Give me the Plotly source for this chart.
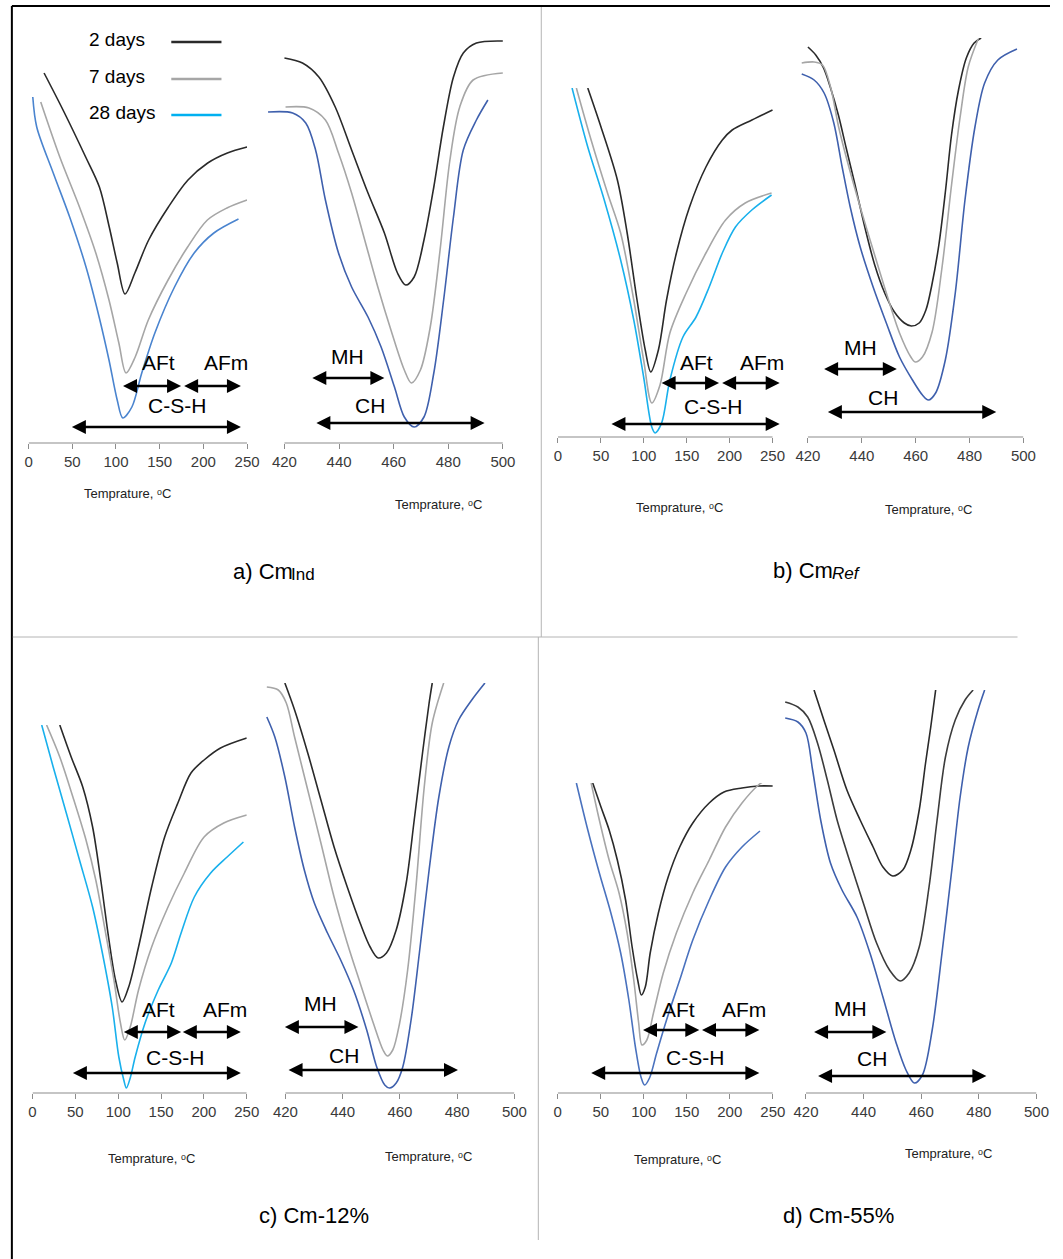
import plotly.graph_objects as go

FIG_W, FIG_H = 1063, 1259

# ---------------- DTG data (temperature in degC, relative signal in a.u.) ----------------
# Panel a) CmInd, low-temperature window
a_lo_T_2d = [17.7, 39.4, 65.3, 81, 92.3, 101.4, 110.4, 121.6, 137.4, 160, 182.4, 205, 227.5, 250]
a_lo_S_2d = [370, 333, 286, 256, 216, 180, 149, 170, 203, 236, 263, 280, 290, 296]
a_lo_T_7d = [13.9, 35.7, 58.2, 76.9, 92, 103.3, 111.5, 122, 137, 159.6, 182, 204.6, 227, 250]
a_lo_S_7d = [341, 286, 236, 190, 143, 100, 70, 86, 123, 163, 196, 223, 235, 243]
a_lo_T_28d = [4.8, 9.3, 28.2, 47, 65.7, 80.7, 92, 101.4, 107.8, 118.2, 129.5, 144.5, 167, 189.5, 212, 240.2]
a_lo_S_28d = [346, 316, 270, 226, 176, 126, 83, 43, 25, 36, 70, 110, 156, 190, 210, 224]
# Panel a) CmInd, high-temperature window
a_hi_T_2d = [420, 426.6, 432.6, 438.6, 444.6, 450.6, 456.6, 461.4, 464.4, 467.5, 471.1, 474.7, 478.2, 481.9, 485.5, 490.3, 500]
a_hi_S_2d = [385, 380, 366, 336, 293, 250, 210, 170, 158, 166, 203, 256, 316, 366, 390, 400, 402]
a_hi_T_7d = [420.4, 429, 435, 439.8, 444.6, 449.4, 454.2, 459, 463.9, 466.5, 469.8, 473.4, 477, 480.6, 484.2, 489.1, 500]
a_hi_S_7d = [336, 335, 323, 290, 250, 203, 156, 113, 73, 60, 73, 116, 193, 283, 336, 363, 370]
a_hi_T_28d = [414, 423, 427.8, 431.4, 435, 439.8, 444.6, 450.6, 455.4, 460.3, 463.9, 467.5, 471.1, 474.7, 478.3, 481.9, 485.5, 490.3, 494.5]
a_hi_S_28d = [331, 330, 320, 293, 243, 190, 156, 126, 96, 56, 26, 16, 26, 70, 143, 226, 293, 323, 343]

# Panel b) CmRef
b_lo_T_2d = [34.7, 50.1, 69.2, 80.6, 92.1, 101.7, 108.1, 117, 126.5, 138, 153.3, 172.4, 191.5, 203, 226, 250]
b_lo_S_2d = [349, 310, 257, 204, 137, 87, 65, 87, 137, 184, 230, 270, 297, 307, 317, 327]
b_lo_T_7d = [21.4, 38.6, 57.7, 73, 88.3, 99.8, 109.3, 118.9, 130.4, 149.4, 172.4, 195.3, 218.2, 248.9]
b_lo_S_7d = [349, 297, 244, 204, 137, 77, 34, 52, 104, 144, 184, 217, 234, 244]
b_lo_T_28d = [16.4, 34.7, 53.9, 73, 88.3, 99.8, 109.3, 113.2, 120.8, 130.4, 145.6, 160.9, 176.2, 191.5, 206.8, 225.9, 248.9]
b_lo_S_28d = [349, 290, 237, 177, 117, 60, 10, 4, 14, 57, 100, 120, 150, 184, 210, 227, 242]
b_hi_T_2d = [420, 422.9, 425.8, 428.4, 431.3, 434.2, 437.5, 441.2, 444.8, 448.5, 452.1, 455.8, 458.4, 461.3, 463.8, 466, 468.6, 471.1, 473.3, 475.9, 478.8, 481.7, 484.3]
b_hi_S_2d = [390, 382, 369, 349, 322, 289, 252, 209, 172, 144, 125, 114, 111, 114, 127, 152, 192, 247, 302, 347, 379, 394, 399]
b_hi_T_7d = [417.7, 422.3, 425.4, 428.4, 431.4, 434.5, 439.4, 444.2, 449.1, 454, 458.2, 459.8, 462.5, 466.1, 469.8, 473.4, 476.5, 479.5, 483.2]
b_hi_S_7d = [374, 375, 372, 350, 310, 277, 230, 187, 144, 104, 80, 75, 80, 105, 170, 254, 320, 370, 398]
b_hi_T_28d = [417.7, 422.3, 426, 429.6, 432.7, 435.7, 439.4, 444.2, 449.1, 454, 458.8, 462.5, 464.7, 467.4, 471, 474.7, 478.3, 482, 485.6, 490.5, 497.6]
b_hi_S_28d = [363, 357, 344, 314, 270, 230, 190, 150, 114, 80, 57, 42, 37, 44, 77, 144, 237, 310, 354, 377, 388]

# Panel c) Cm-12%
c_lo_T_2d = [31.8, 45.1, 58.6, 70.1, 79.6, 89.2, 96.8, 104.5, 112.2, 123.7, 139, 154.2, 169.6, 184.9, 200.2, 219.4, 250]
c_lo_S_2d = [368, 336, 306, 266, 213, 153, 113, 91, 106, 146, 206, 256, 290, 320, 333, 345, 355]
c_lo_T_7d = [16.4, 31.8, 47.1, 62.4, 73.8, 85.3, 95, 102.6, 107.6, 114, 123.7, 139, 158.1, 177.2, 200.2, 223.2, 250]
c_lo_S_7d = [368, 336, 296, 253, 213, 160, 113, 70, 53, 66, 103, 146, 186, 220, 256, 270, 278]
c_lo_T_28d = [10.7, 24.1, 39.4, 54.8, 70.1, 81.5, 93, 100.7, 106.5, 109.5, 114, 119.8, 131.3, 146.7, 162, 173.4, 188.8, 207.9, 227.1, 246.1]
c_lo_S_28d = [368, 326, 280, 233, 186, 140, 86, 36, 13, 5, 15, 36, 70, 103, 130, 160, 196, 220, 236, 251]
c_hi_T_2d = [419.8, 423.2, 427.8, 432.4, 437, 441.6, 446.1, 449.6, 452.4, 455.3, 458.7, 462.2, 465, 467.9, 470.2, 471.3]
c_hi_S_2d = [410, 383, 340, 293, 246, 206, 170, 146, 135, 140, 163, 210, 273, 340, 390, 410]
c_hi_T_7d = [413.5, 417.5, 420.3, 423.2, 427.8, 432.4, 437, 441.6, 446.1, 450.7, 454.1, 455.6, 457.5, 459.9, 462.7, 465.6, 468.5, 471.3, 475.3]
c_hi_S_7d = [406, 403, 390, 356, 303, 250, 196, 150, 110, 70, 43, 37, 43, 70, 123, 206, 306, 370, 410]
c_hi_T_28d = [413.5, 416.3, 419.8, 423.2, 426.6, 430.1, 434.7, 439.3, 443.8, 448.4, 451.9, 454.7, 456.4, 458.7, 461, 463.9, 466.8, 470.2, 473.6, 477.1, 480.5, 485.1, 489.7]
c_hi_S_28d = [376, 356, 316, 266, 223, 190, 160, 133, 103, 63, 26, 8, 5, 10, 26, 73, 140, 223, 296, 346, 373, 393, 410]

# Panel d) Cm-55%
d_lo_T_2d = [40.7, 50.3, 59.8, 69.3, 78.9, 86.5, 93, 97.2, 101.8, 107.5, 117, 128.4, 141.8, 157, 176.1, 193.3, 214.2, 233.3, 250]
d_lo_S_2d = [310, 286, 263, 233, 193, 146, 113, 98, 106, 140, 180, 216, 246, 270, 290, 301, 305, 307, 307]
d_lo_T_7d = [38.9, 48.4, 59.8, 71.3, 80.7, 88.4, 94.1, 97.9, 103.6, 111.3, 122.7, 137.9, 157, 176.1, 195.1, 214.2, 233.3, 240]
d_lo_S_7d = [310, 273, 233, 200, 160, 113, 70, 48, 53, 80, 120, 160, 200, 233, 266, 290, 308, 312]
d_lo_T_28d = [21.7, 35, 48.4, 61.8, 73.2, 82.7, 90.3, 96.8, 101, 106.7, 115, 126.5, 141.8, 157, 176.1, 195.1, 214.2, 235.1]
d_lo_S_28d = [310, 263, 220, 180, 140, 93, 46, 16, 8, 15, 40, 73, 113, 153, 193, 226, 246, 262]
d_hi_T_2d = [422.8, 426.2, 429.7, 434.2, 438.8, 443.3, 446.7, 450.1, 453.6, 456.4, 459.3, 461.5, 463.3, 465]
d_hi_S_2d = [403, 373, 343, 303, 273, 246, 226, 217, 223, 243, 283, 330, 366, 403]
d_hi_T_7d = [412.8, 417.2, 420.6, 424, 427.4, 430.8, 435.4, 439.9, 444.5, 449, 452.7, 455.8, 459.3, 462.7, 465.5, 468.4, 471.8, 475.2, 478]
d_hi_S_7d = [391, 386, 376, 350, 313, 273, 230, 190, 150, 123, 112, 120, 146, 206, 273, 336, 373, 393, 403]
d_hi_T_28d = [412.8, 417.2, 420, 422.3, 425.1, 428.5, 432.5, 437.7, 442.2, 446.7, 451.3, 454.7, 457.6, 460.4, 463.8, 467.2, 470.6, 473.5, 476.3, 479.7, 482]
d_hi_S_28d = [375, 371, 360, 323, 273, 230, 203, 176, 140, 96, 50, 23, 10, 18, 63, 140, 223, 296, 346, 383, 403]

# Tick labels
low_ticks = [0, 50, 100, 150, 200, 250]
high_ticks = [420, 440, 460, 480, 500]

# Decomposition ranges marked with double arrows: (label, T start, T end, level)
a_lo_ranges = [("AFt", 108, 174.5, 57), ("AFm", 178, 243, 57), ("C-S-H", 49.5, 243, 16)]
a_lo_labels = [("AFt", 149, 80), ("AFm", 226, 80), ("C-S-H", 170, 37)]
a_hi_ranges = [("MH", 430.2, 456.6, 65), ("CH", 431.7, 493.3, 20)]
a_hi_labels = [("MH", 443, 86), ("CH", 451.5, 37)]
b_lo_ranges = [("AFt", 120.8, 187.7, 54), ("AFm", 191.3, 258.4, 54), ("C-S-H", 62.3, 258.4, 13)]
b_lo_labels = [("AFt", 161.5, 75), ("AFm", 238, 75), ("C-S-H", 180.5, 31)]
b_hi_ranges = [("MH", 426, 453, 68), ("CH", 427.4, 489.9, 25)]
b_hi_labels = [("MH", 439.4, 90), ("CH", 447.9, 40)]
c_lo_ranges = [("AFt", 106.5, 173.4, 61), ("AFm", 175.4, 243.1, 61), ("C-S-H", 47.1, 243.1, 20)]
c_lo_labels = [("AFt", 147.5, 84), ("AFm", 225, 84), ("C-S-H", 166, 36)]
c_hi_ranges = [("MH", 419.8, 445.5, 66), ("CH", 421.1, 480.3, 23)]
c_hi_labels = [("MH", 432.4, 90), ("CH", 440.4, 38)]
d_lo_ranges = [("AFt", 99.1, 164.6, 63), ("AFm", 167.7, 234.4, 63), ("C-S-H", 38.9, 234.4, 20)]
d_lo_labels = [("AFt", 139.9, 84), ("AFm", 216.2, 84), ("C-S-H", 159, 36)]
d_hi_ranges = [("MH", 422.8, 447.9, 61), ("CH", 424.2, 482.6, 17)]
d_hi_labels = [("MH", 435.4, 85), ("CH", 442.8, 35)]

# ---------------- styling ----------------
FONT = "Arial, Liberation Sans, DejaVu Sans, sans-serif"
C_2D = "#2a2a2a"
C_7D = "#a6a6a6"
C_7D_DARK = "#3c3c3c"
C_CYAN = "#19b0ec"
C_BLUE = "#4a84cf"
C_NAVY = "#3f60ad"
AX_GREY = "#8c8c8c"
HEAD = 14          # arrowhead marker size (px)
SHAFT_TRIM = 6     # shaft ends tucked inside the heads (px)


def fx(p):
    return p / FIG_W


def fy(p):
    return 1 - p / FIG_H


# Geometry of each window: x-range limits, pixel of first/last tick, baseline pixel, top pixel
subplots = [
    dict(T=[a_lo_T_2d, a_lo_T_7d, a_lo_T_28d], S=[a_lo_S_2d, a_lo_S_7d, a_lo_S_28d],
         cols=[C_2D, C_7D, C_BLUE], ticks=low_ticks, xmin=0, xmax=250, p0=25, p1=247, base=443, top=20,
         ranges=a_lo_ranges, labels=a_lo_labels),
    dict(T=[a_hi_T_2d, a_hi_T_7d, a_hi_T_28d], S=[a_hi_S_2d, a_hi_S_7d, a_hi_S_28d],
         cols=[C_2D, C_7D, C_NAVY], ticks=high_ticks, xmin=410, xmax=500, p0=285, p1=507, base=443, top=20,
         ranges=a_hi_ranges, labels=a_hi_labels),
    dict(T=[b_lo_T_2d, b_lo_T_7d, b_lo_T_28d], S=[b_lo_S_2d, b_lo_S_7d, b_lo_S_28d],
         cols=[C_2D, C_7D, C_CYAN], ticks=low_ticks, xmin=0, xmax=262, p0=563, p1=781, base=437, top=88,
         ranges=b_lo_ranges, labels=b_lo_labels),
    dict(T=[b_hi_T_2d, b_hi_T_7d, b_hi_T_28d], S=[b_hi_S_2d, b_hi_S_7d, b_hi_S_28d],
         cols=[C_2D, C_7D, C_NAVY], ticks=high_ticks, xmin=410, xmax=500, p0=817, p1=1036, base=437, top=38,
         ranges=b_hi_ranges, labels=b_hi_labels),
    dict(T=[c_lo_T_2d, c_lo_T_7d, c_lo_T_28d], S=[c_lo_S_2d, c_lo_S_7d, c_lo_S_28d],
         cols=[C_2D, C_7D, C_CYAN], ticks=low_ticks, xmin=0, xmax=250, p0=29, p1=246.7, base=1093, top=725,
         ranges=c_lo_ranges, labels=c_lo_labels),
    dict(T=[c_hi_T_2d, c_hi_T_7d, c_hi_T_28d], S=[c_hi_S_2d, c_hi_S_7d, c_hi_S_28d],
         cols=[C_2D, C_7D, C_NAVY], ticks=high_ticks, xmin=410, xmax=500, p0=286, p1=518.7, base=1093, top=683,
         ranges=c_hi_ranges, labels=c_hi_labels),
    dict(T=[d_lo_T_2d, d_lo_T_7d, d_lo_T_28d], S=[d_lo_S_2d, d_lo_S_7d, d_lo_S_28d],
         cols=[C_2D, C_7D, "#4a72be"], ticks=low_ticks, xmin=0, xmax=250, p0=562.7, p1=781.3, base=1093, top=783,
         ranges=d_lo_ranges, labels=d_lo_labels),
    dict(T=[d_hi_T_2d, d_hi_T_7d, d_hi_T_28d], S=[d_hi_S_2d, d_hi_S_7d, d_hi_S_28d],
         cols=[C_2D, C_7D_DARK, C_NAVY], ticks=high_ticks, xmin=410, xmax=500, p0=815, p1=1049.3, base=1093, top=690,
         ranges=d_hi_ranges, labels=d_hi_labels),
]

ages = ["2 days", "7 days", "28 days"]

fig = go.Figure()
layout = dict(
    width=FIG_W, height=FIG_H, margin=dict(l=0, r=0, t=0, b=0),
    paper_bgcolor="white", plot_bgcolor="rgba(0,0,0,0)", showlegend=False,
)
shapes = []
annotations = []

for i, sp in enumerate(subplots, start=1):
    suffix = "" if i == 1 else str(i)
    xa, ya = "x" + suffix, "y" + suffix
    t0, t1 = sp["ticks"][0], sp["ticks"][-1]
    scale = (sp["p1"] - sp["p0"]) / (t1 - t0)          # px per degC
    left_px = sp["p0"] - (t0 - sp["xmin"]) * scale
    right_px = sp["p1"] + (sp["xmax"] - t1) * scale
    ytop = sp["base"] - sp["top"]

    for T, S, col, age in zip(sp["T"], sp["S"], sp["cols"], ages):
        fig.add_trace(go.Scatter(
            x=T, y=S, mode="lines", name=age, xaxis=xa, yaxis=ya,
            line=dict(color=col, width=1.6, shape="spline", smoothing=0.9),
            hoverinfo="skip",
        ))

    # double-headed arrows marking decomposition ranges
    trim = SHAFT_TRIM / scale
    for _, start, end, level in sp["ranges"]:
        fig.add_trace(go.Scatter(
            x=[start + trim, end - trim], y=[level, level], mode="lines", xaxis=xa, yaxis=ya,
            line=dict(color="black", width=2.6), hoverinfo="skip", cliponaxis=False,
        ))
        fig.add_trace(go.Scatter(
            x=[start, end], y=[level, level], mode="markers", xaxis=xa, yaxis=ya,
            marker=dict(symbol=["arrow-left", "arrow-right"], size=HEAD, color="black",
                        line=dict(width=0)),
            hoverinfo="skip", cliponaxis=False,
        ))

    # range names
    for name, tx, ty in sp["labels"]:
        annotations.append(dict(
            x=tx, y=ty, xref=xa, yref=ya, text=name, showarrow=False,
            font=dict(family=FONT, size=21, color="black"), xanchor="center", yanchor="middle",
        ))

    layout["xaxis" + suffix] = dict(
        domain=[fx(left_px), fx(right_px)], range=[sp["xmin"], sp["xmax"]], anchor=ya,
        tickvals=sp["ticks"], ticks="outside", ticklen=5, tickwidth=1, tickcolor=AX_GREY,
        tickfont=dict(family=FONT, size=15, color="#3a3a3a"),
        showline=False, showgrid=False, zeroline=False, fixedrange=True,
    )
    layout["yaxis" + suffix] = dict(
        domain=[fy(sp["base"]), fy(sp["top"])], range=[0, ytop], anchor=xa,
        visible=False, fixedrange=True,
    )
    # axis baseline spanning only the tick interval
    shapes.append(dict(type="line", xref=xa, yref=ya + " domain", x0=t0, x1=t1, y0=0, y1=0,
                       line=dict(color=AX_GREY, width=1.2)))

# axis titles
xlabel = "Temprature, \u1d52C"
for px_, py_ in [(125, 493), (442, 505), (686, 507), (940, 509),
                 (150, 1158), (431, 1156), (684, 1159), (960, 1153)]:
    annotations.append(dict(x=fx(px_), y=fy(py_), xref="paper", yref="paper", text=xlabel,
                            showarrow=False, font=dict(family=FONT, size=13, color="#222"),
                            xanchor="center", yanchor="middle"))

# panel captions (main part, then the smaller suffix set right after it)
for txt, px_, py_ in [("a) Cm", 296, 571), ("b) Cm", 845, 570)]:
    annotations.append(dict(x=fx(px_), y=fy(py_), xref="paper", yref="paper", text=txt,
                            showarrow=False, font=dict(family=FONT, size=22, color="black"),
                            xanchor="right", yanchor="middle"))
for txt, px_, py_ in [("Ind", 290, 575), ("<i>Ref</i>", 839, 574)]:
    annotations.append(dict(x=fx(px_), y=fy(py_), xref="paper", yref="paper", text=txt,
                            showarrow=False, font=dict(family=FONT, size=17, color="black"),
                            xanchor="left", yanchor="middle"))
for txt, px_, py_ in [("c) Cm-12%", 315, 1215), ("d) Cm-55%", 848, 1215)]:
    annotations.append(dict(x=fx(px_), y=fy(py_), xref="paper", yref="paper", text=txt,
                            showarrow=False, font=dict(family=FONT, size=22, color="black"),
                            xanchor="center", yanchor="middle"))

# curing-age key
for age, col, py_ in [("2 days", C_2D, 39), ("7 days", C_7D, 76), ("28 days", "#00b0f0", 112)]:
    annotations.append(dict(x=fx(84), y=fy(py_), xref="paper", yref="paper", text=age,
                            showarrow=False, font=dict(family=FONT, size=19, color="black"),
                            xanchor="left", yanchor="middle"))
    shapes.append(dict(type="line", xref="paper", yref="paper", x0=fx(170), x1=fx(221),
                       y0=fy(py_ + 3), y1=fy(py_ + 3), line=dict(color=col, width=2.6)))

# frame and panel dividers
shapes += [
    dict(type="line", xref="paper", yref="paper", x0=fx(8), x1=1.0, y0=fy(6), y1=fy(6),
         line=dict(color="black", width=2)),
    dict(type="line", xref="paper", yref="paper", x0=fx(8), x1=fx(8), y0=fy(6), y1=0,
         line=dict(color="black", width=2)),
    dict(type="line", xref="paper", yref="paper", x0=fx(9), x1=fx(1030), y0=fy(637), y1=fy(637),
         line=dict(color="#b4b4b4", width=1)),
    dict(type="line", xref="paper", yref="paper", x0=fx(546), x1=fx(546), y0=fy(7), y1=fy(637),
         line=dict(color="#b4b4b4", width=1)),
    dict(type="line", xref="paper", yref="paper", x0=fx(543), x1=fx(543), y0=fy(637), y1=fy(1240),
         line=dict(color="#b4b4b4", width=1)),
]

layout["shapes"] = shapes
layout["annotations"] = annotations
fig.update_layout(**layout)
fig.write_html("out.html")
